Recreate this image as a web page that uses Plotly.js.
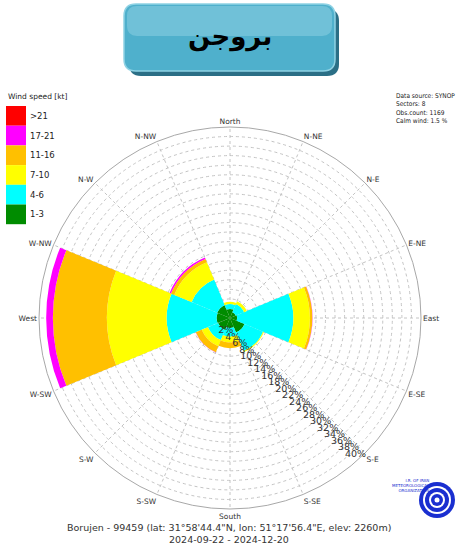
<!DOCTYPE html>
<html>
<head>
<meta charset="utf-8">
<script src="https://cdn.plot.ly/plotly-3.0.1.min.js"></script>
<style>html,body{margin:0;padding:0;background:#fff;}#chart{width:457px;height:546px;}</style>
</head>
<body>
<div id="chart"></div>
<script>
// ---- data ----
const directions = [0, 45, 90, 135, 180, 225, 270, 315];
const speedBins = ['1-3', '4-6', '7-10', '11-16', '17-21', '>21'];
const binColors = ['#008c00', '#00ffff', '#ffff00', '#ffc000', '#ff00ff', '#ff0000'];
const speed1_3   = [1.9, 1.3, 1.5, 3.3, 2.1, 2.7, 2.8, 2.9];
const speed4_6   = [1.0, 1.9, 11.75, 4.2, 1.8, 2.3, 10.45, 5.8];
const speed7_10  = [0.5, 0.6, 3.5, 0.2, 1.2, 1.4, 12.55, 3.95];
const speed11_16 = [0, 0, 0.5, 0, 1.2, 1.35, 11.3, 0.75];
const speed17_21 = [0, 0, 0.05, 0, 0, 0.05, 1.4, 0.3];
const speed21p   = [0, 0, 0, 0, 0, 0, 0, 0];
const compassTicks = [0, 22.5, 45, 67.5, 90, 112.5, 135, 157.5, 180, 202.5, 225, 247.5, 270, 292.5, 315, 337.5];
const compassLabels = ['North', 'N-NE', 'N-E', 'E-NE', 'East', 'E-SE', 'S-E', 'S-SE', 'South', 'S-SW', 'S-W', 'W-SW', 'West', 'W-NW', 'N-W', 'N-NW'];
const radialTicks = [2,4,6,8,10,12,14,16,18,20,22,24,26,28,30,32,34,36,38,40];
const stationTitle = 'بروجن';
const infoLines = ['Data source: SYNOP', 'Sectors: 8', 'Obs.count: 1169', 'Calm wind: 1.5 %'];
const footerLines = ['Borujen - 99459 (lat: 31°58\'44.4"N, lon: 51°17\'56.4"E, elev: 2260m)', '2024-09-22 - 2024-12-20'];

const series = [speed1_3, speed4_6, speed7_10, speed11_16, speed17_21, speed21p];

const W = 457, H = 546;
const px = x => x / W;
const py = y => 1 - y / H;

const traces = series.map((vals, i) => ({
  type: 'barpolar',
  name: speedBins[i],
  r: vals,
  theta: directions,
  width: directions.map(() => 45),
  marker: {color: binColors[i], line: {width: 0}},
  showlegend: false,
  hoverinfo: 'skip'
}));

function roundRect(x0, y0, x1, y1, rad) {
  const X = v => px(v).toFixed(5), Y = v => py(v).toFixed(5);
  return `M ${X(x0+rad)},${Y(y0)} L ${X(x1-rad)},${Y(y0)} Q ${X(x1)},${Y(y0)} ${X(x1)},${Y(y0+rad)} ` +
         `L ${X(x1)},${Y(y1-rad)} Q ${X(x1)},${Y(y1)} ${X(x1-rad)},${Y(y1)} L ${X(x0+rad)},${Y(y1)} ` +
         `Q ${X(x0)},${Y(y1)} ${X(x0)},${Y(y1-rad)} L ${X(x0)},${Y(y0+rad)} Q ${X(x0)},${Y(y0)} ${X(x0+rad)},${Y(y0)} Z`;
}

const shapes = [];
const annotations = [];

// title banner
shapes.push({type:'path', xref:'paper', yref:'paper', path: roundRect(129, 9, 339, 76, 12), fillcolor:'#2b6f86', line:{width:0}});
shapes.push({type:'path', xref:'paper', yref:'paper', path: roundRect(124, 4, 335, 71, 12), fillcolor:'#4fb0cc', line:{color:'#8fd2e4', width:1.5}});
shapes.push({type:'path', xref:'paper', yref:'paper', path: roundRect(127, 6, 332, 36, 10), fillcolor:'#9ad6e6', opacity:0.45, line:{width:0}});
annotations.push({xref:'paper', yref:'paper', x: px(230), y: py(37), text: '<b>' + stationTitle + '</b>', showarrow:false,
  font:{family:'DejaVu Sans', size:26, color:'#000'}, xanchor:'center', yanchor:'middle'});

// legend (built from bins/colors), top item is the strongest bin
annotations.push({xref:'paper', yref:'paper', x: px(6), y: py(96), text:'Wind speed [kt]', showarrow:false,
  xanchor:'left', yanchor:'middle', font:{family:'DejaVu Sans', size:7.5, color:'#222'}});
for (let k = 0; k < speedBins.length; k++) {
  const idx = speedBins.length - 1 - k;
  const top = 106 + k * 19.7, bot = top + 19.7;
  shapes.push({type:'rect', xref:'paper', yref:'paper', x0: px(6), x1: px(26), y0: py(top), y1: py(bot),
    fillcolor: binColors[idx], line:{width:0}});
  annotations.push({xref:'paper', yref:'paper', x: px(28), y: py((top+bot)/2), text: speedBins[idx], showarrow:false,
    xanchor:'left', yanchor:'middle', font:{family:'DejaVu Sans', size:8.5, color:'#222'}});
}

// info box
annotations.push({xref:'paper', yref:'paper', x: px(394), y: py(90), text: infoLines.join('<br>'), showarrow:false,
  xanchor:'left', yanchor:'top', align:'left', font:{family:'DejaVu Sans Condensed', size:6.5, color:'#222'}});

// footer
annotations.push({xref:'paper', yref:'paper', x: px(229), y: py(527), text: footerLines[0], showarrow:false,
  xanchor:'center', yanchor:'middle', font:{family:'DejaVu Sans', size:9.5, color:'#333'}});
annotations.push({xref:'paper', yref:'paper', x: px(229), y: py(539), text: footerLines[1], showarrow:false,
  xanchor:'center', yanchor:'middle', font:{family:'DejaVu Sans', size:9.5, color:'#333'}});

// logo (decorative)
const lc = [437, 500];
[[18,'#1a2fd0'],[14,'#ffffff'],[12,'#1a2fd0'],[8,'#ffffff'],[6,'#1a2fd0'],[2.5,'#ffffff']].forEach(([r,c]) => {
  shapes.push({type:'circle', xref:'paper', yref:'paper', x0: px(lc[0]-r), x1: px(lc[0]+r), y0: py(lc[1]-r), y1: py(lc[1]+r),
    fillcolor:c, line:{width:0}});
});
annotations.push({xref:'paper', yref:'paper', x: px(432), y: py(486), text:'I.R. OF IRAN<br>METEOROLOGICAL<br>ORGANIZATION', showarrow:false,
  xanchor:'right', yanchor:'middle', align:'right', font:{family:'DejaVu Sans', size:4, color:'#1a2fd0'}});

const layout = {
  width: W, height: H,
  margin: {l:0, r:0, t:0, b:0},
  paper_bgcolor: '#fff',
  font: {family: 'DejaVu Sans', color: '#333'},
  showlegend: false,
  polar: {
    domain: {x: [px(39), px(421)], y: [py(509), py(127)]},
    bgcolor: '#fff',
    barmode: 'stack',
    bargap: 0,
    angularaxis: {
      rotation: 90, direction: 'clockwise',
      tickmode: 'array', tickvals: compassTicks, ticktext: compassLabels,
      ticks: '', showline: true, linecolor: '#a8a8a8', linewidth: 1,
      showgrid: true, gridcolor: '#c4c4c4', griddash: 'dot', gridwidth: 1,
      tickfont: {family:'DejaVu Sans', size: 7.5, color:'#333'}
    },
    radialaxis: {
      range: [0, 40], angle: -43, tickangle: -43, side: 'clockwise',
      tickmode: 'array', tickvals: radialTicks, ticktext: radialTicks.map(v => '\u00a0\u00a0\u00a0\u00a0' + v + '%'),
      showline: false, ticks: '',
      showgrid: true, gridcolor: '#c4c4c4', griddash: 'dot', gridwidth: 1,
      tickfont: {family:'DejaVu Sans', size: 9.5, color:'#333'}
    }
  },
  shapes: shapes,
  annotations: annotations
};

Plotly.newPlot('chart', traces, layout, {displayModeBar: false, staticPlot: true});
</script>
</body>
</html>
